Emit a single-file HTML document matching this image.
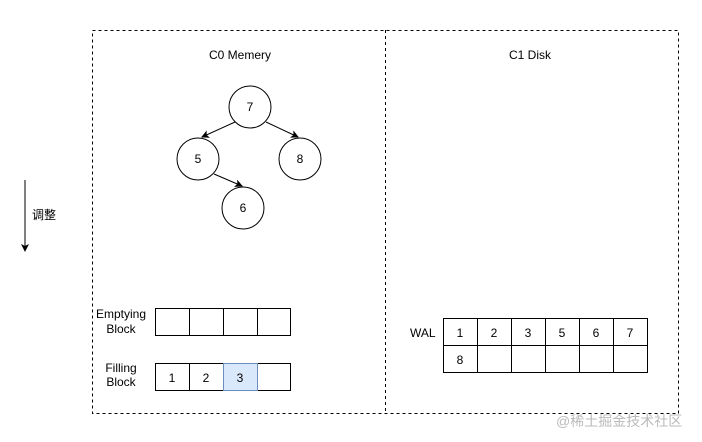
<!DOCTYPE html>
<html><head><meta charset="utf-8"><style>body{margin:0;background:#fff}svg{display:block}</style></head><body>
<svg width="702" height="442" xmlns="http://www.w3.org/2000/svg" font-family="Liberation Sans, Noto Sans CJK SC, sans-serif" font-size="12">
<defs><marker id="a" markerWidth="8" markerHeight="8" refX="7" refY="4" orient="auto" markerUnits="userSpaceOnUse"><path d="M0,0 L8,4 L0,8 L2,4z" fill="#000"/></marker></defs>
<rect x="92.5" y="30.5" width="586" height="383" fill="none" stroke="#000" stroke-dasharray="3,3"/>
<line x1="385.5" y1="30" x2="385.5" y2="413" stroke="#000" stroke-dasharray="3,3"/>
<text x="240" y="59" text-anchor="middle">C0 Memery</text>
<text x="530" y="59" text-anchor="middle">C1 Disk</text>
<g fill="#fff" stroke="#000">
<circle cx="250" cy="107" r="21"/><circle cx="198" cy="159" r="21"/><circle cx="300" cy="159" r="21"/><circle cx="243" cy="208" r="21"/>
</g>
<g stroke="#000" marker-end="url(#a)">
<line x1="235" y1="122" x2="202" y2="137"/><line x1="266" y1="122" x2="298" y2="137"/><line x1="214" y1="174" x2="242" y2="186"/>
<line x1="25" y1="180" x2="25" y2="251"/>
</g>
<g text-anchor="middle"><text x="250" y="111">7</text><text x="198" y="163">5</text><text x="300" y="163">8</text><text x="243" y="212">6</text></g>
<text x="32" y="219">调整</text>
<g fill="#fff" stroke="#000">
<rect x="155.5" y="308.5" width="34" height="27"/><rect x="189.5" y="308.5" width="34" height="27"/><rect x="223.5" y="308.5" width="34" height="27"/><rect x="257.5" y="308.5" width="33" height="27"/>
<rect x="155.5" y="363.5" width="34" height="27"/><rect x="189.5" y="363.5" width="34" height="27"/><rect x="257.5" y="363.5" width="33" height="27"/>
</g>
<rect x="223.5" y="363.5" width="34" height="27" fill="#dae8fc" stroke="#6c8ebf"/>
<g text-anchor="middle"><text x="121" y="318">Emptying</text><text x="121" y="333">Block</text><text x="121" y="372">Filling</text><text x="121" y="386">Block</text>
<text x="172" y="382">1</text><text x="206" y="382">2</text><text x="240" y="382">3</text></g>
<g fill="#fff" stroke="#000">
<rect x="443.5" y="318.5" width="34" height="27"/><rect x="477.5" y="318.5" width="34" height="27"/><rect x="511.5" y="318.5" width="34" height="27"/><rect x="545.5" y="318.5" width="34" height="27"/><rect x="579.5" y="318.5" width="34" height="27"/><rect x="613.5" y="318.5" width="34" height="27"/>
<rect x="443.5" y="345.5" width="34" height="27"/><rect x="477.5" y="345.5" width="34" height="27"/><rect x="511.5" y="345.5" width="34" height="27"/><rect x="545.5" y="345.5" width="34" height="27"/><rect x="579.5" y="345.5" width="34" height="27"/><rect x="613.5" y="345.5" width="34" height="27"/>
</g>
<text x="410" y="337">WAL</text>
<g text-anchor="middle"><text x="460" y="337">1</text><text x="494" y="337">2</text><text x="528" y="337">3</text><text x="562" y="337">5</text><text x="596" y="337">6</text><text x="630" y="337">7</text><text x="460" y="364">8</text></g>
<text x="556" y="426" fill="#bbb" font-size="14">@稀土掘金技术社区</text>
</svg>
</body></html>
